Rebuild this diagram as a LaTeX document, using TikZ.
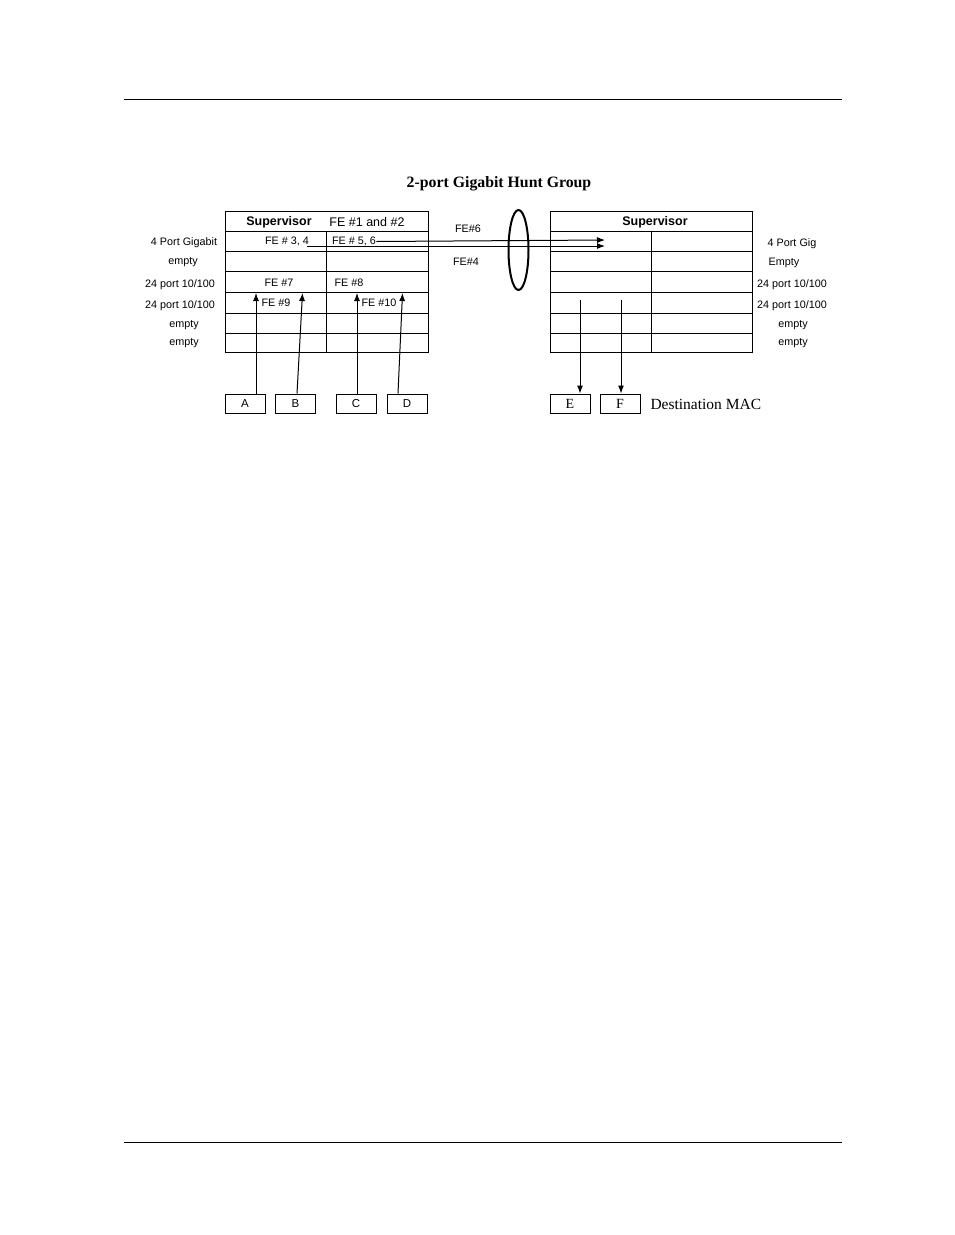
\documentclass[tikz,border=0pt]{standalone}
\usepackage{fontspec}
\setmainfont{Liberation Serif}
\setsansfont{Liberation Sans}
\usetikzlibrary{arrows.meta}

\tikzset{
  port/.style={font=\sffamily\fontsize{10.8}{12}\selectfont, inner sep=0pt, yshift=-1.5pt},
  head/.style={font=\sffamily\bfseries\fontsize{12.5}{14}\selectfont, inner sep=0pt, yshift=-1.5pt},
  host/.style={draw, line width=1pt, minimum width=40pt, minimum height=19pt, inner sep=0pt},
  feed/.style={-{Latex[length=8pt,width=6pt]}, line width=1pt},
}

\begin{document}
\begin{tikzpicture}[x=1pt,y=-1pt,line width=1pt]
    \useasboundingbox (0,0) rectangle (954,1235);
    \draw (124,99) -- (842,99);
    \draw (124,1142) -- (842,1142);

    \node[font=\bfseries\fontsize{15.8}{18}\selectfont] (title) at (499,184) {2-port Gigabit Hunt Group};

    % left chassis
    \draw (225,211) rectangle (428,352);
    \foreach \y in {231,251,271,292,313,333}
        \draw (225,\y) -- (428,\y);
    \draw (326,231) -- (326,352);
    \node[head] (supl) at (279,221) {Supervisor};
    \node[port, font=\sffamily\fontsize{12.5}{14}\selectfont] (fe12) at (367,221) {FE \#1 and \#2};
    \node[port] (fe34) at (287,240) {FE \# 3, 4};
    \node[port] (fe56) at (354,240) {FE \# 5, 6};
    \node[port] (fe7) at (279,281) {FE \#7};
    \node[port] (fe8) at (349,281) {FE \#8};
    \node[port] (fe9) at (276,301) {FE \#9};
    \node[port] (fe10) at (379,301) {FE \#10};

    \node[port] (l1) at (184,241) {4 Port Gigabit};
    \node[port] (l2) at (183,261) {empty};
    \node[port] (l3) at (180,283) {24 port 10/100};
    \node[port] (l4) at (180,304) {24 port 10/100};
    \node[port] (l5) at (184,324) {empty};
    \node[port] (l6) at (184,342) {empty};

    % right chassis
    \draw (550,211) rectangle (752,352);
    \foreach \y in {231,251,271,292,313,333}
        \draw (550,\y) -- (752,\y);
    \draw (651,231) -- (651,352);
    \node[head] (supr) at (655,221) {Supervisor};

    \node[port] (r1) at (792,242) {4 Port Gig};
    \node[port] (r2) at (784,261) {Empty};
    \node[port] (r3) at (792,283) {24 port 10/100};
    \node[port] (r4) at (792,304) {24 port 10/100};
    \node[port] (r5) at (793,324) {empty};
    \node[port] (r6) at (793,342) {empty};

    % hunt group
    \draw[line width=2pt] (518.5,250) ellipse [x radius=10, y radius=40];
    \node[port] (fe6) at (468,227) {FE\#6};
    \node[port] (fe4) at (466,260) {FE\#4};
    \coordinate (gig6) at (605,240);
    \coordinate (gig4) at (605,246);
    \coordinate (out4) at (307,246);
    \draw[feed] (fe56.east) -- (gig6);
    \draw[feed] (out4) -- (gig4);

    % hosts
    \node[host, font=\sffamily\fontsize{11.5}{13}\selectfont] (A) at (245,403.5) {A};
    \node[host, font=\sffamily\fontsize{11.5}{13}\selectfont] (B) at (295.5,403.5) {B};
    \node[host, font=\sffamily\fontsize{11.5}{13}\selectfont] (C) at (356,403.5) {C};
    \node[host, font=\sffamily\fontsize{11.5}{13}\selectfont] (D) at (407,403.5) {D};
    \node[host, font=\rmfamily\fontsize{14}{16}\selectfont] (E) at (570,403.5) {E};
    \node[host, font=\rmfamily\fontsize{14}{16}\selectfont] (F) at (620,403.5) {F};
    \node[font=\rmfamily\fontsize{15.5}{18}\selectfont, anchor=west, inner sep=0pt] (dmac) at (650,404) {Destination MAC};

    \coordinate (pA) at (256,293);
    \coordinate (pB) at (302.5,293);
    \coordinate (pC) at (357,293);
    \coordinate (pD) at (402.5,293);
    \coordinate (pE) at (580,300);
    \coordinate (pF) at (621,300);
    \draw[feed] (A.north -| pA) -- (pA);
    \draw[feed] ([xshift=1.5pt]B.north) -- (pB);
    \draw[feed] (C.north -| pC) -- (pC);
    \draw[feed] ([xshift=-9pt]D.north) -- (pD);
    \draw[feed] (pE) -- (E.north -| pE);
    \draw[feed] (pF) -- (F.north -| pF);
\end{tikzpicture}
\end{document}
